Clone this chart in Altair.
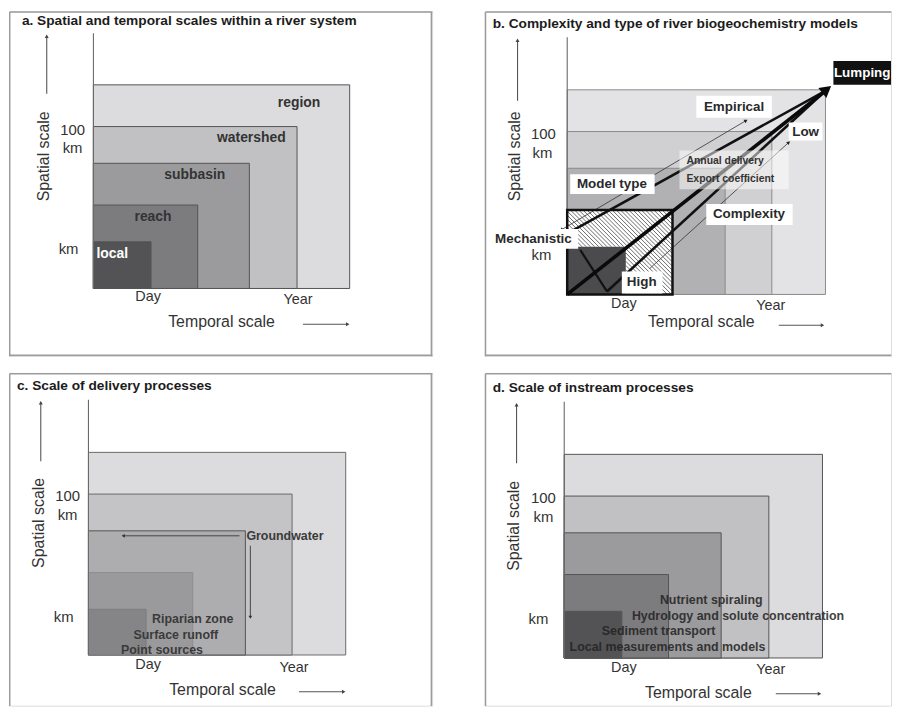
import math
import altair as alt
import pandas as pd

FONT = "Liberation Sans"
BG = "#f4f4f4"

# ---------------- layout of the four panels (style / layout only) ----------------
FRAME = {
    "a": dict(w=426, h=347, ox=85, oy=279, sides="ltrb"),
    "b": dict(w=409, h=347, ox=83, oy=285, sides="ltb"),
    "c": dict(w=426, h=335, ox=80, oy=284, sides="ltr"),
    "d": dict(w=409, h=335, ox=80, oy=287, sides="lt"),
}

# ---------------- data ----------------
titles = {
    "a": "a. Spatial and temporal scales within a river system",
    "b": "b. Complexity and type of river biogeochemistry models",
    "c": "c. Scale of delivery processes",
    "d": "d. Scale of instream processes",
}
tick_texts = ["100", "km", "km", "Day", "Year"]
axis_title_x = "Temporal scale"
axis_title_y = "Spatial scale"

# per panel: positions of 100, km, km, Day, Year (diagram units from the origin)
tick_x = {"a": [-21, -21, -25, 55, 206], "b": [-24, -25, -26, 57, 205],
          "c": [-21, -21, -25, 60, 207], "d": [-21, -21, -26, 60, 208]}
tick_y = {"a": [160, 141, 40, -9, -12], "b": [161, 142, 40, -10, -12],
          "c": [160, 141, 38, -10, -13], "d": [161, 142, 39, -10, -12]}
tlabel_xy = {"a": (129, -34), "b": (135, -28), "c": (135, -35), "d": (135, -35)}
tarrow = {"a": (211, 258, -36), "b": (213, 259, -31), "c": (212, 259, -37), "d": (213, 259, -36)}
slabel_xy = {"a": (-50, 133), "b": (-53, 139), "c": (-50, 133), "d": (-51, 133)}
sarrow = {"a": (-47, 196, 256), "b": (-50, 195, 258), "c": (-48, 195, 256), "d": (-48, 196, 257)}
yaxis_top = {"a": 257, "b": 259, "c": 257, "d": 258}
title_xy = {"a": (-72, 269), "b": (-75, 272), "c": (-72, 271), "d": (-72, 272)}

# panel a: nested scale boxes (temporal extent, spatial extent)
a_names = ["region", "watershed", "subbasin", "reach", "local"]
a_time = [258, 205, 157, 105, 58]
a_space = [205, 163, 126, 84, 47]
a_name_x = [207, 159, 102, 60, 19]
a_name_y = [187, 151, 114, 72, 35]

# panel b
b_time = [260, 206, 159]
b_space = [206, 164, 127]
b_hatch = (106, 85)
b_dark = (59, 48)
b_tip = (266, 210)
b_lines_from_x = [0, 3, 40]
b_lines_from_y = [0, 63, 3]
b_v = (13, 45, 40, 3)
b_type_arrow = (-6, 65, 180, 175)       # Mechanistic <-> Empirical
b_cplx_arrow = (83, 26, 223, 153)       # High -> Low
b_box_names = ["Lumping", "Empirical", "Low", "Model type", "Complexity", "Mechanistic", "High"]
b_box_x = [268, 130, 223, 3, 140, -80, 55]
b_box_x2 = [326, 206, 257, 88, 227, 11, 96]
b_box_y = [211, 178, 155, 101, 70, 46, 1]
b_box_y2 = [235, 200, 173, 121, 91, 66, 23]
b_text_x = [297, 168, 240, 45, 183, -34, 75]
b_text_y = [223, 189, 164, 111, 81, 56, 12]
b_note_box = (113, 223, 106, 145)
b_notes = ["Annual delivery", "Export coefficient"]
b_note_x = [120, 120]
b_note_y = [134, 116]

# panel c
c_time = [259, 205, 158, 105, 58]
c_space = [204, 162, 125, 83, 46]
c_names = ["Groundwater", "Riparian zone", "Surface runoff", "Point sources"]
c_name_x = [159, 105, 88, 74]
c_name_y = [120, 36, 20, 5]
c_arrow_left = (152, 33, 120)
c_arrow_down = (163, 110, 36)

# panel d
d_time = [260, 206, 158, 105, 58]
d_space = [205, 163, 126, 84, 47]
d_names = ["Nutrient spiraling", "Hydrology and solute concentration",
           "Sediment transport", "Local measurements and models"]
d_name_x = [148, 175, 95, 104]
d_name_y = [58, 42, 27, 11]

# ---------------- styles ----------------
FILL_A = ["#dcdcde", "#c1c1c3", "#9b9b9d", "#7c7c7e", "#535355"]
FILL_B = ["#e3e3e5", "#d0d0d2", "#b1b1b3"]
FILL_C = ["#dcdcde", "#c4c4c6", "#adadaf", "#9a9a9c", "#858587"]
STROKE_C = ["#6a6a6a", "#6a6a6a", "#555555", "#8e8e90", "#7c7c7e"]


def scales(key):
    f = FRAME[key]
    xs = alt.Scale(domain=[-f["ox"], f["w"] - f["ox"]], nice=False, zero=False)
    ys = alt.Scale(domain=[-(f["h"] - f["oy"]), f["oy"]], nice=False, zero=False)
    return xs, ys


def enc_xy(xs, ys):
    return dict(x=alt.X("x:Q", scale=xs, axis=None), y=alt.Y("y:Q", scale=ys, axis=None))


def segs(x, y, x2, y2, xs, ys, color, width, opacity=1.0, cap="butt"):
    df = pd.DataFrame({"x": x, "y": y, "x2": x2, "y2": y2})
    return alt.Chart(df).mark_rule(color=color, strokeWidth=width, opacity=opacity,
                                   strokeCap=cap).encode(
        x2="x2:Q", y2="y2:Q", **enc_xy(xs, ys))


def rects(x, x2, y, y2, fills, strokes, xs, ys, width=1.0, opacity=1.0):
    df = pd.DataFrame({"x": x, "x2": x2, "y": y, "y2": y2, "f": fills, "s": strokes})
    return alt.Chart(df).mark_rect(strokeWidth=width, opacity=opacity).encode(
        x2="x2:Q", y2="y2:Q",
        fill=alt.Fill("f:N", scale=None, legend=None),
        stroke=alt.Stroke("s:N", scale=None, legend=None), **enc_xy(xs, ys))


def texts(x, y, t, xs, ys, size, color="#333333", weight="normal", align="center",
          angle=None, opacity=1.0):
    df = pd.DataFrame({"x": x, "y": y, "t": t})
    mk = dict(font=FONT, fontWeight=weight, align=align, baseline="middle",
              fontSize=size, color=color, opacity=opacity)
    if angle is not None:
        mk["angle"] = angle
    return alt.Chart(df).mark_text(**mk).encode(text="t:N", **enc_xy(xs, ys))


def heads(x, y, ang, xs, ys, color, size):
    df = pd.DataFrame({"x": x, "y": y, "a": ang})
    return alt.Chart(df).mark_point(shape="triangle-up", filled=True, size=size,
                                    color=color, opacity=1).encode(
        angle=alt.Angle("a:Q", scale=None), **enc_xy(xs, ys))


def heading(dx, dy):
    return math.degrees(math.atan2(dx, dy)) % 360


def border(key, xs, ys):
    f = FRAME[key]
    l, r = -f["ox"] + 0.75, f["w"] - f["ox"] - 0.75
    t, b = f["oy"] - 0.75, -(f["h"] - f["oy"]) + 0.75
    sx, sy, ex, ey = [], [], [], []
    if "l" in f["sides"]:
        sx += [l]; sy += [b - 1]; ex += [l]; ey += [t]
    if "t" in f["sides"]:
        sx += [l]; sy += [t]; ex += [r + 1]; ey += [t]
    if "r" in f["sides"]:
        sx += [r]; sy += [t]; ex += [r]; ey += [b - 1]
    if "b" in f["sides"]:
        sx += [l]; sy += [b]; ex += [r + 1]; ey += [b]
    return segs(sx, sy, ex, ey, xs, ys, "#9c9c9c", 1.5)


def axis_layers(key, xs, ys):
    tx, ty = tick_x[key], tick_y[key]
    L = []
    L.append(segs([0], [0], [0], [yaxis_top[key]], xs, ys, "#6a6a6a", 1.1))
    L.append(texts(tx[:3], ty[:3], tick_texts[:3], xs, ys, 15, "#333333"))
    L.append(texts(tx[3:], ty[3:], tick_texts[3:], xs, ys, 14.5, "#333333"))
    L.append(texts([tlabel_xy[key][0]], [tlabel_xy[key][1]], [axis_title_x], xs, ys, 16, "#333333"))
    L.append(texts([slabel_xy[key][0]], [slabel_xy[key][1]], [axis_title_y], xs, ys, 16,
                   "#333333", angle=270))
    ax0, ax1, ay = tarrow[key]
    sx, sy0, sy1 = sarrow[key]
    L.append(segs([ax0, sx], [ay, sy0], [ax1 - 2, sx], [ay, sy1 - 2], xs, ys, "#555555", 1.1))
    L.append(heads([ax1 - 2, sx], [ay, sy1 - 2], [90, 0], xs, ys, "#444444", 16))
    L.append(texts([title_xy[key][0]], [title_xy[key][1]], [titles[key]], xs, ys, 13.8,
                   "#1c1c1c", weight="bold", align="left"))
    return L


def panel(key, layers):
    f = FRAME[key]
    return alt.layer(*layers).properties(width=f["w"], height=f["h"])


# ---------------- panel a ----------------
xs, ys = scales("a")
n = len(a_time)
pa = panel("a", [
    border("a", xs, ys),
    rects([0] * n, a_time, [0] * n, a_space, FILL_A, ["#555555"] * n, xs, ys),
    texts(a_name_x[:4], a_name_y[:4], a_names[:4], xs, ys, 14, "#333333", weight="bold"),
    texts(a_name_x[4:], a_name_y[4:], a_names[4:], xs, ys, 14, "#ffffff", weight="bold"),
] + axis_layers("a", xs, ys))

# ---------------- panel b ----------------
xs, ys = scales("b")
n = len(b_time)
hx, hy = b_hatch
dxk, dyk = b_dark
# hatch segments (lines going down to the right) clipped to the L-shaped hatched area
hsx, hsy, hex_, hey = [], [], [], []
regions = [(0, hx, dyk, hy), (dxk, hx, 0, dyk)]
c = 0.0
while c <= hx + hy:
    for (x0, x1, y0, y1) in regions:
        lo = max(x0, c - y1)
        hi = min(x1, c - y0)
        if hi > lo:
            hsx.append(lo); hsy.append(c - lo); hex_.append(hi); hey.append(c - hi)
    c += 4.2

tipx, tipy = b_tip
main_ang = heading(tipx, tipy)
dl = math.hypot(tipx, tipy)
ta = b_type_arrow
ca = b_cplx_arrow
pb = panel("b", [
    border("b", xs, ys),
    rects([0] * n, b_time, [0] * n, b_space, FILL_B, ["#8a8a8a"] * n, xs, ys),
    rects([0], [hx], [0], [hy], ["#ffffff"], ["#ffffff"], xs, ys, width=0),
    segs(hsx, hsy, hex_, hey, xs, ys, "#5a5a5a", 0.9),
    rects([0], [dxk], [0], [dyk], ["#4b4b4d"], ["#4b4b4d"], xs, ys, width=0),
    segs([0], [0], [0], [yaxis_top["b"]], xs, ys, "#6a6a6a", 1.1),
    segs([ta[0], ca[0]], [ta[1], ca[1]], [ta[2], ca[2]], [ta[3], ca[3]], xs, ys, "#333333", 0.8),
    heads([ta[0], ta[2], ca[2]], [ta[1], ta[3], ca[3]],
          [heading(ta[0] - ta[2], ta[1] - ta[3]), heading(ta[2] - ta[0], ta[3] - ta[1]),
           heading(ca[2] - ca[0], ca[3] - ca[1])], xs, ys, "#222222", 16),
    rects([0], [hx], [0], [hy], ["transparent"], ["#111111"], xs, ys, width=2.5),
    segs([b_v[0]], [b_v[1]], [b_v[2]], [b_v[3]], xs, ys, "#111111", 2.2),
    segs(b_lines_from_x[1:], b_lines_from_y[1:], [tipx - 6] * 2, [tipy - 5] * 2, xs, ys,
         "#111111", 2.6),
    segs(b_lines_from_x[:1], b_lines_from_y[:1], [tipx - 6], [tipy - 5], xs, ys, "#0a0a0a", 3.6),
    heads([tipx - 6 * tipx / dl], [tipy - 6 * tipy / dl], [main_ang], xs, ys, "#0a0a0a", 170),
    rects([b_note_box[0]], [b_note_box[1]], [b_note_box[2]], [b_note_box[3]],
          ["#ffffff"], ["transparent"], xs, ys, width=0, opacity=0.5),
    rects(b_box_x[:1], b_box_x2[:1], b_box_y[:1], b_box_y2[:1], ["#111111"], ["#111111"],
          xs, ys, width=0),
    rects(b_box_x[1:], b_box_x2[1:], b_box_y[1:], b_box_y2[1:], ["#ffffff"] * 6,
          ["#ffffff"] * 6, xs, ys, width=0),
    texts(b_text_x[:1], b_text_y[:1], b_box_names[:1], xs, ys, 13.5, "#ffffff", weight="bold"),
    texts(b_text_x[1:], b_text_y[1:], b_box_names[1:], xs, ys, 13.5, "#2a2a2a", weight="bold"),
    texts(b_note_x, b_note_y, b_notes, xs, ys, 10.5, "#333333", weight="bold", align="left"),
] + axis_layers("b", xs, ys)[1:])

# ---------------- panel c ----------------
xs, ys = scales("c")
n = len(c_time)
al = c_arrow_left
ad = c_arrow_down
pc = panel("c", [
    border("c", xs, ys),
    rects([0] * n, c_time, [0] * n, c_space, FILL_C, STROKE_C, xs, ys),
    segs([al[0], ad[0]], [al[2], ad[1]], [al[1] + 2, ad[0]], [al[2], ad[2] + 2], xs, ys,
         "#444444", 1.0),
    heads([al[1] + 2, ad[0]], [al[2], ad[2] + 2], [270, 180], xs, ys, "#333333", 14),
    texts(c_name_x[:1], c_name_y[:1], c_names[:1], xs, ys, 12.5, "#3a3a3a", weight="bold",
          align="left"),
    texts(c_name_x[1:], c_name_y[1:], c_names[1:], xs, ys, 12.5, "#3a3a3a", weight="bold"),
] + axis_layers("c", xs, ys))

# ---------------- panel d ----------------
xs, ys = scales("d")
n = len(d_time)
pd_ = panel("d", [
    border("d", xs, ys),
    rects([0] * n, d_time, [0] * n, d_space, FILL_A, ["#555555"] * n, xs, ys),
    texts(d_name_x, d_name_y, d_names, xs, ys, 12.5, "#222222", weight="bold", opacity=0.85),
] + axis_layers("d", xs, ys))

top = alt.hconcat(pa, pb, spacing=50).resolve_scale(x="independent", y="independent")
bottom = alt.hconcat(pc, pd_, spacing=50).resolve_scale(x="independent", y="independent")
chart = alt.vconcat(top, bottom, spacing=14).resolve_scale(
    x="independent", y="independent").properties(padding=0).configure_view(
    stroke=None, fill=BG).configure(background="#ffffff")

chart.save("out.html", embed_options={"renderer": "svg", "actions": False})
